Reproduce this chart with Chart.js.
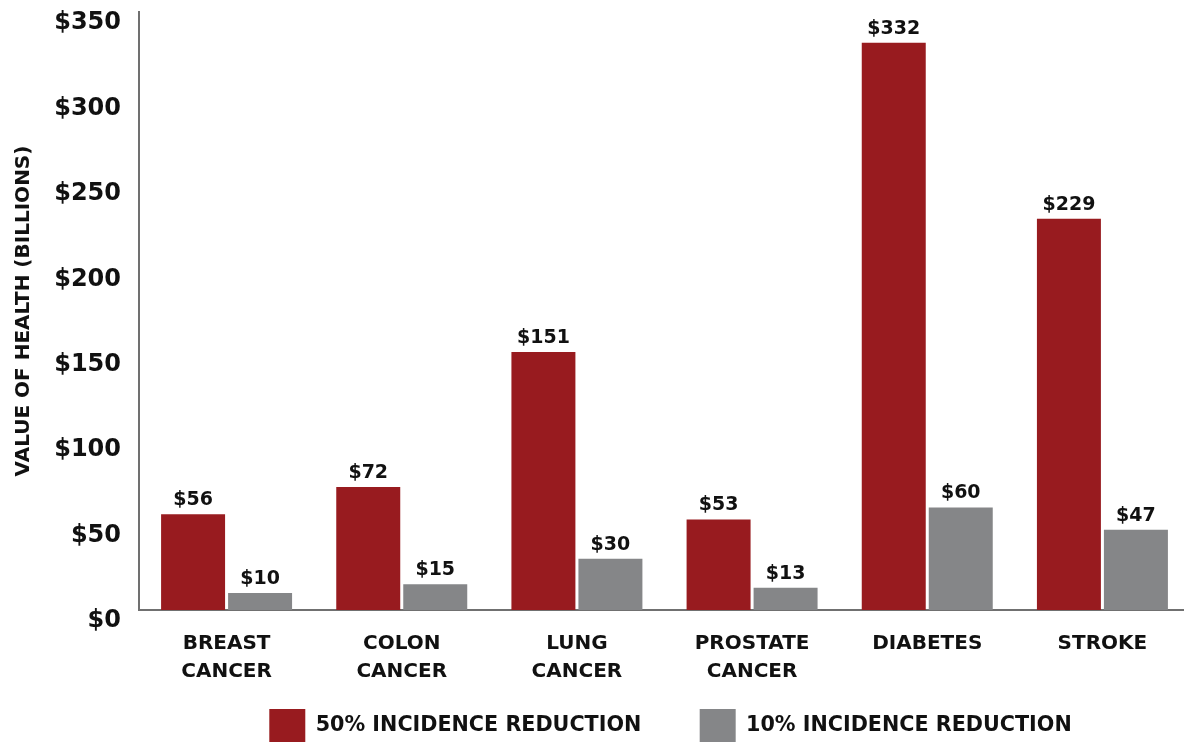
<!DOCTYPE html>
<html>
<head>
<meta charset="utf-8">
<script src="https://cdn.jsdelivr.net/npm/chart.js@4"></script>
<style>
  html, body { margin: 0; padding: 0; background: #fff; overflow: hidden; }
  #wrap { width: 1184px; height: 742px; overflow: hidden; }
  #c { display: block; }
</style>
</head>
<body>
<div id="wrap"><canvas id="c" width="1190" height="742"></canvas></div>
<script>
const categories = [["BREAST", "CANCER"], ["COLON", "CANCER"], ["LUNG", "CANCER"], ["PROSTATE", "CANCER"], "DIABETES", "STROKE"];
const reduction50 = [56, 72, 151, 53, 332, 229];
const reduction10 = [10, 15, 30, 13, 60, 47];
const seriesNames = ["50% INCIDENCE REDUCTION", "10% INCIDENCE REDUCTION"];
const yTickValues = [0, 50, 100, 150, 200, 250, 300, 350];
const yTitle = "VALUE OF HEALTH (BILLIONS)";

const RED = '#981B1F';
const GRAY = '#858688';
const FONT = "'DejaVu Sans'";
const LEGEND_PAD = 17;

Chart.defaults.font.family = FONT;
Chart.defaults.color = '#111';

const valueLabels = {
  id: 'valueLabels',
  afterDatasetsDraw(chart) {
    const ctx = chart.ctx;
    ctx.save();
    ctx.font = "bold 19px " + FONT;
    ctx.fillStyle = '#111';
    ctx.textAlign = 'center';
    ctx.textBaseline = 'alphabetic';
    chart.data.datasets.forEach((ds, i) => {
      const meta = chart.getDatasetMeta(i);
      meta.data.forEach((bar, j) => {
        ctx.fillText('$' + ds.data[j], bar.x, bar.y - 9);
      });
    });
    ctx.restore();
  }
};

const legendShift = {
  id: 'legendShift',
  afterLayout(chart) {
    if (chart.legend) chart.legend.left += 12;
  }
};

new Chart(document.getElementById('c'), {
  type: 'bar',
  data: {
    labels: categories,
    datasets: [
      { label: seriesNames[0], data: reduction50, backgroundColor: RED },
      { label: seriesNames[1], data: reduction10, backgroundColor: GRAY }
    ]
  },
  options: {
    responsive: false,
    animation: false,
    devicePixelRatio: 1,
    layout: { padding: { top: 12, left: 0, right: 0, bottom: -10 } },
    datasets: {
      bar: { categoryPercentage: 0.765, barPercentage: 0.955 }
    },
    scales: {
      x: {
        grid: { display: false, drawTicks: false },
        border: { display: true, color: '#707070', width: 2 },
        ticks: {
          padding: 20,
          color: '#111',
          font: { size: 20, weight: 'bold', lineHeight: 1.4 },
          maxRotation: 0,
          autoSkip: false
        },
        afterFit(scale) {
          scale.height = 99 - LEGEND_PAD;
          scale.paddingLeft = 0;
          scale.paddingRight = 0;
        }
      },
      y: {
        min: 0,
        max: 350,
        grid: { display: false, drawTicks: false },
        border: { display: true, color: '#707070', width: 2 },
        afterBuildTicks(scale) {
          scale.ticks = yTickValues.map(v => ({ value: v }));
        },
        ticks: {
          padding: 18,
          labelOffset: 11,
          color: '#111',
          font: { size: 24, weight: 'bold' },
          callback: (v) => '$' + v
        },
        title: {
          display: true,
          text: yTitle,
          color: '#111',
          font: { size: 20, weight: 'bold' },
          padding: { top: 12, bottom: 0 }
        },
        afterFit(scale) {
          scale.width = 139;
          scale.paddingTop = 0;
          scale.paddingBottom = 0;
        }
      }
    },
    plugins: {
      legend: {
        position: 'bottom',
        fullSize: false,
        labels: {
          boxWidth: 36,
          boxHeight: 33,
          padding: LEGEND_PAD,
          color: '#111',
          font: { size: 20.7, weight: 'bold' },
          generateLabels(chart) {
            const items = Chart.defaults.plugins.legend.labels.generateLabels(chart);
            items.forEach((it, i) => {
              it.lineWidth = 0;
              if (i < items.length - 1) it.text = it.text + '\u2003\u2003';
            });
            return items;
          }
        }
      },
      tooltip: { enabled: false }
    }
  },
  plugins: [valueLabels, legendShift]
});
</script>
</body>
</html>
